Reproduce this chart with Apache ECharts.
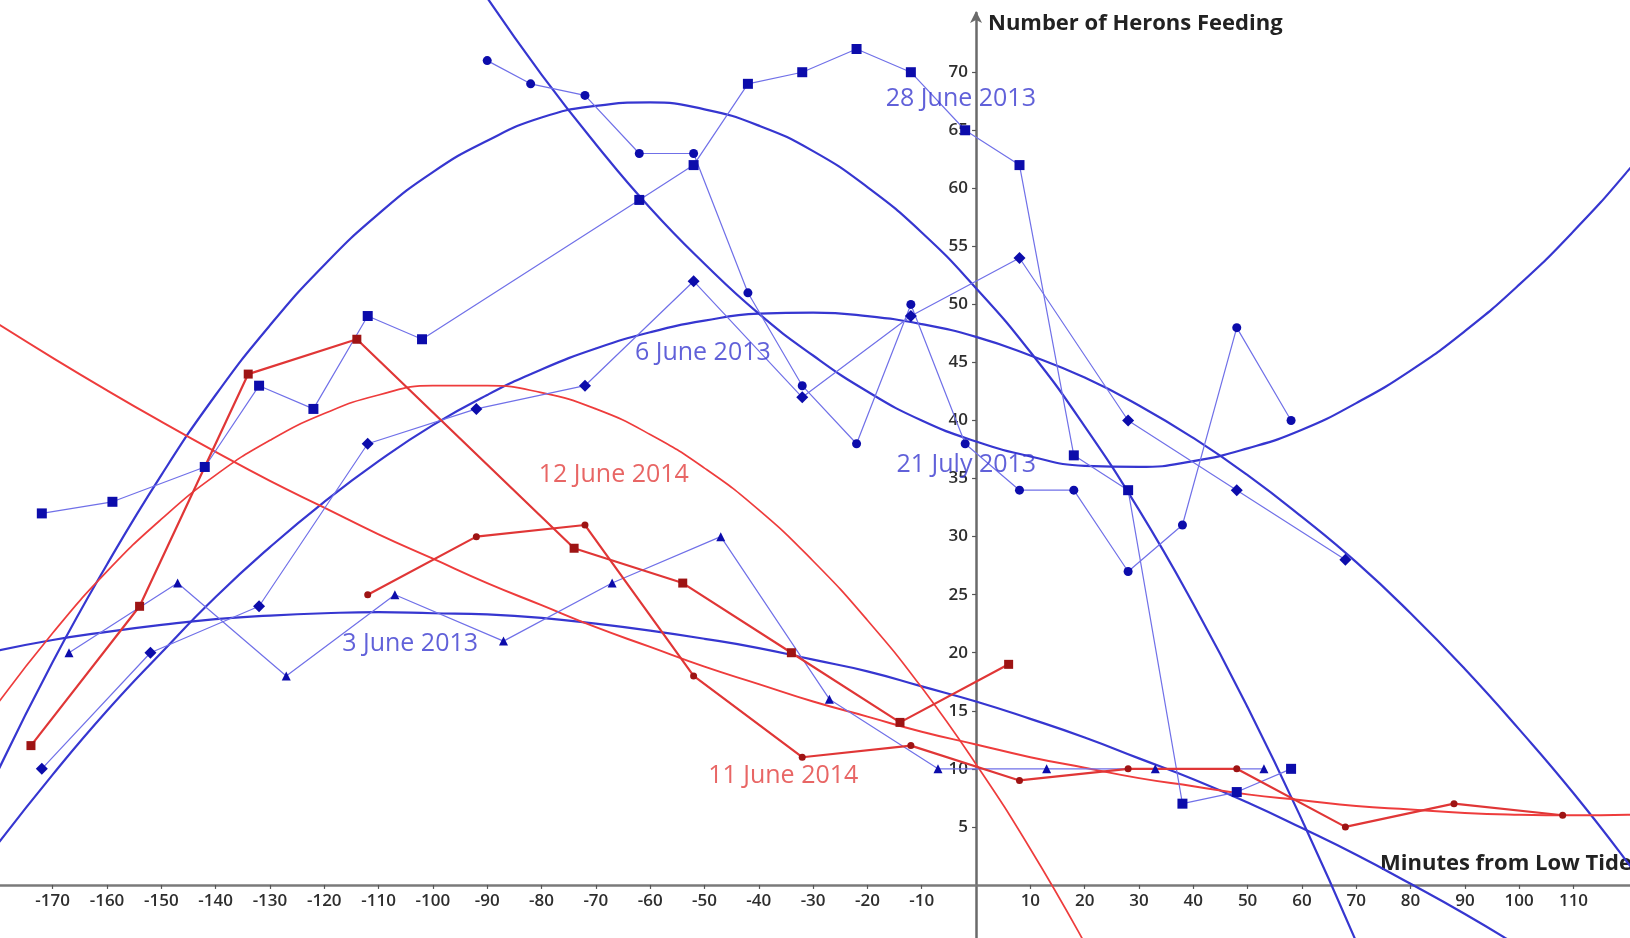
<!DOCTYPE html>
<html><head><meta charset="utf-8">
<script src="https://cdn.jsdelivr.net/npm/echarts@6/dist/echarts.min.js"></script>
<style>html,body{margin:0;padding:0;background:#fff}#c{width:1630px;height:938px}</style>
</head><body><div id="c"></div>
<script>
// ---- tick labels ----
const xTicks = [-170,-160,-150,-140,-130,-120,-110,-100,-90,-80,-70,-60,-50,-40,-30,-20,-10,10,20,30,40,50,60,70,80,90,100,110];
const yTicks = [5,10,15,20,25,30,35,40,45,50,55,60,65,70];

// ---- observed counts (minutes from low tide, herons feeding) ----
const jun28X = [-172,-159,-142,-132,-122,-112,-102,-62,-52,-42,-32,-22,-12,-2,8,18,28,38,48,58];
const jun28Y = [32,33,36,43,41,49,47,59,62,69,70,72,70,65,62,37,34,7,8,10];
const jul21X = [-90,-82,-72,-62,-52,-42,-32,-22,-12,-2,8,18,28,38,48,58];
const jul21Y = [71,69,68,63,63,51,43,38,50,38,34,34,27,31,48,40];
const jun6X = [-172,-152,-132,-112,-92,-72,-52,-32,-12,8,28,48,68];
const jun6Y = [10,20,24,38,41,43,52,42,49,54,40,34,28];
const jun3X = [-167,-147,-127,-107,-87,-67,-47,-27,-7,13,33,53];
const jun3Y = [20,26,18,25,21,26,30,16,10,10,10,10];
const jun12X = [-174,-154,-134,-114,-74,-54,-34,-14,6];
const jun12Y = [12,24,44,47,29,26,20,14,19];
const jun11X = [-112,-92,-72,-52,-32,-12,8,28,48,68,88,108];
const jun11Y = [25,30,31,18,11,12,9,10,10,5,7,6];

// ---- fitted trend curves, every 10 minutes ----
const fitX = [-180,-170,-160,-150,-140,-130,-120,-110,-100,-90,-80,-70,-60,-50,-40,-30,-20,-10,0,10,20,30,40,50,60,70,80,90,100,110,120,130];
const fitJun28 = [9.9,19.2,27.6,35.3,42.2,48.2,53.4,57.8,61.4,64.1,66.1,67.1,67.4,66.8,65.4,63.2,60.1,56.2,51.4,45.9,39.5,32.3,24.2,15.3,5.6,-4.9,-16.3,null,null,null,null,null];
const fitJul21 = [null,null,null,null,null,null,null,91.4,83.6,76.4,69.8,63.8,58.3,53.5,49.2,45.6,42.5,40.0,38.2,36.9,36.1,36.0,36.5,37.6,39.2,41.5,44.3,47.7,51.7,56.3,61.5,67.3];
const fitJun6 = [3.6,9.5,15.0,20.0,24.8,29.1,33.0,36.5,39.6,42.2,44.4,46.2,47.6,48.6,49.2,49.3,49.0,48.3,47.2,45.6,43.7,41.3,38.5,35.3,31.7,27.8,23.4,18.6,13.4,7.9,1.9,-4.5];
const fitJun3 = [20.2,21.1,21.8,22.4,22.9,23.2,23.4,23.5,23.4,23.3,23.0,22.5,21.9,21.2,20.4,19.4,18.4,17.1,15.8,14.3,12.7,10.9,9.1,7.1,4.9,2.6,0.1,-2.5,-5.3,-8.2,null,null];
const fitJun12 = [15.7,21.7,27.0,31.5,35.3,38.3,40.6,42.2,43.0,43.0,42.4,41.0,38.8,35.9,32.3,27.9,22.8,17.0,10.4,3.1,-5.0,-13.8,null,null,null,null,null,null,null,null,null,null];
const fitJun11 = [48.3,45.4,42.6,39.9,37.3,34.8,32.5,30.2,28.1,26.0,24.1,22.2,20.5,18.8,17.3,15.8,14.5,13.2,12.1,11.0,10.1,9.2,8.5,7.8,7.3,6.8,6.5,6.2,6.05,6.0,6.05,6.2];

// ---- curve labels ----
const labelText = ['28 June 2013','6 June 2013','21 July 2013','12 June 2014','3 June 2013','11 June 2014'];
const labelX = [-2.8,-50.3,-1.8,-66.7,-104.2,-35.5];
const labelY = [67.7,45.8,36.2,35.3,20.8,9.4];
const labelIsRed = [false,false,false,true,false,true];

const BLUE_LINE = '#7070e8', BLUE_MARK = '#0c0cab', BLUE_FIT = '#3636d0';
const RED_LINE = '#e03636', RED_MARK = '#9e1414', RED_FIT = '#ee3c3c';

const X_MIN = -179.7, X_MAX = 120.4, Y_MIN = -4.57, Y_MAX = 75.1;
const W = 1630, H = 938, TOP = 13;

const zip = (xs, ys) => xs.map((x, i) => [x, ys[i]]);

function fitSeries(ys, color, width) {
  return {type:'line', data: zip(fitX, ys), smooth: 0.5, showSymbol:false, symbol:'none',
    clip:false, connectNulls:false, silent:true,
    lineStyle:{color, width}, z:2};
}
function dataSeries(xs, ys, sym, size, lineColor, lineWidth, markColor) {
  return {type:'line', data: zip(xs, ys), symbol: sym, symbolSize: size, showAllSymbol:true,
    clip:false, silent:true,
    lineStyle:{color: lineColor, width: lineWidth}, itemStyle:{color: markColor}, z:3};
}

// offsets that bring each axis to the other axis's zero
const zeroXpx = W * (0 - X_MIN) / (X_MAX - X_MIN);
const zeroYpx = TOP + (H - TOP) * (Y_MAX - 0) / (Y_MAX - Y_MIN);

const chart = echarts.init(document.getElementById('c'), null, {renderer:'canvas'});
chart.setOption({
  animation:false,
  backgroundColor:'#ffffff',
  grid:{left:0, right:0, top:TOP, bottom:0, containLabel:false, outerBoundsMode:'none'},
  xAxis:{type:'value', min:X_MIN, max:X_MAX, position:'bottom', offset: -(H - zeroYpx),
    axisLine:{onZero:false, lineStyle:{color:'#7a7a7a', width:2.5}},
    axisTick:{show:true, length:4, customValues:xTicks, lineStyle:{color:'#555', width:1.2}},
    axisLabel:{customValues:xTicks, margin:8, color:'#2e2e2e', fontSize:17, fontWeight:600, fontFamily:'Open Sans'},
    splitLine:{show:false}},
  yAxis:{type:'value', min:Y_MIN, max:Y_MAX, position:'left', offset: -zeroXpx,
    axisLine:{onZero:false, symbol:['none','arrow'], symbolSize:[9,12], symbolOffset:[0,2], lineStyle:{color:'#6a6a6a', width:2.5}},
    axisTick:{show:true, length:4, customValues:yTicks, lineStyle:{color:'#555', width:1.2}},
    axisLabel:{customValues:yTicks, margin:8, color:'#2e2e2e', fontSize:17, fontWeight:600, fontFamily:'Open Sans'},
    splitLine:{show:false}},
  graphic:[
    {type:'text', left:988, top:13, style:{text:'Number of Herons Feeding', font:'bold 22px "Open Sans"', fill:'#222'}},
    {type:'text', left:1380, top:853, style:{text:'Minutes from Low Tide', font:'bold 22px "Open Sans"', fill:'#222'}}
  ],
  series:[
    fitSeries(fitJun28, BLUE_FIT, 2.2),
    fitSeries(fitJul21, BLUE_FIT, 2.2),
    fitSeries(fitJun6, BLUE_FIT, 2.2),
    fitSeries(fitJun3, BLUE_FIT, 2.2),
    fitSeries(fitJun12, RED_FIT, 1.7),
    fitSeries(fitJun11, RED_FIT, 2.0),
    dataSeries(jun28X, jun28Y, 'rect', 10, BLUE_LINE, 1.2, BLUE_MARK),
    dataSeries(jul21X, jul21Y, 'circle', 9, BLUE_LINE, 1.2, BLUE_MARK),
    dataSeries(jun6X, jun6Y, 'diamond', 12, BLUE_LINE, 1.2, BLUE_MARK),
    dataSeries(jun3X, jun3Y, 'triangle', 9, BLUE_LINE, 1.2, BLUE_MARK),
    dataSeries(jun12X, jun12Y, 'rect', 9, RED_LINE, 2.2, RED_MARK),
    dataSeries(jun11X, jun11Y, 'circle', 7, RED_LINE, 2.2, RED_MARK),
    {type:'scatter', silent:true, symbolSize:1, itemStyle:{color:'rgba(0,0,0,0)'}, z:4,
      data: labelText.map((t, i) => ({name:t, value:[labelX[i], labelY[i]],
        label:{show:true, position:'inside', formatter:'{b}', fontSize:25, fontFamily:'Open Sans',
          color: labelIsRed[i] ? '#e2403e' : '#3a3ad0'}}))}
  ]
});
</script></body></html>
